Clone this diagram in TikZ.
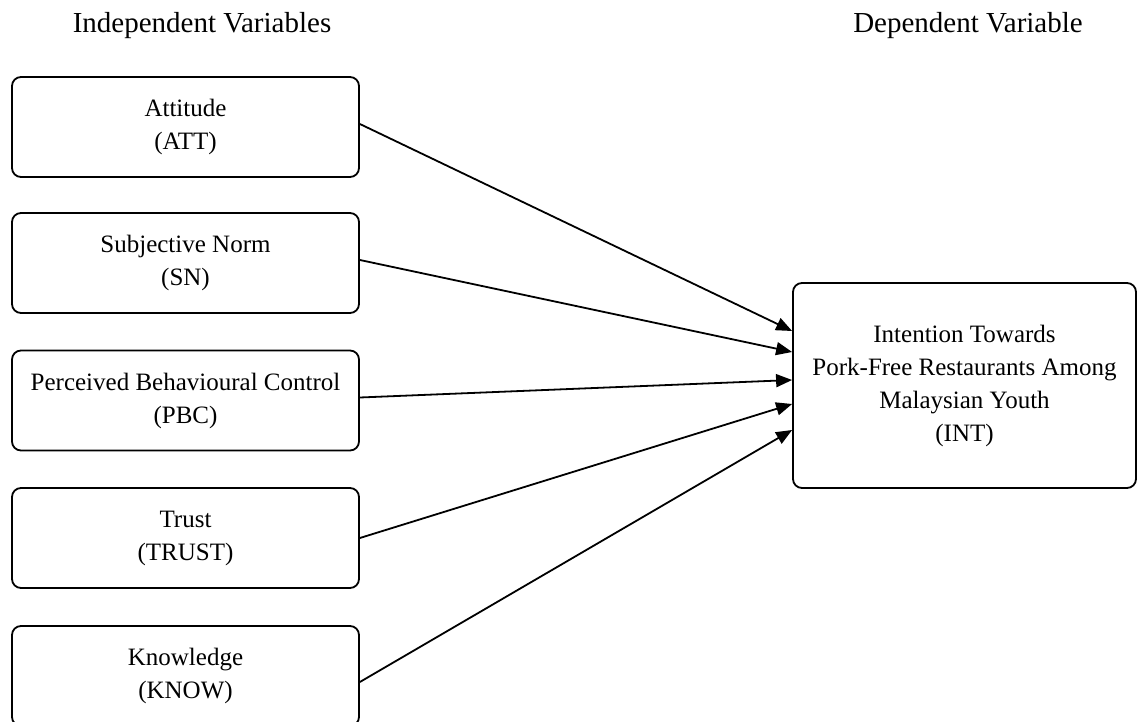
\documentclass[tikz,border=0pt]{standalone}
\usepackage{fontspec}
\setmainfont{Liberation Serif}
\usetikzlibrary{arrows.meta}
\begin{document}
\begin{tikzpicture}[x=1pt,y=-1pt,
  box/.style={draw, line width=1.8pt, rounded corners=9pt, align=center,
    font=\fontsize{25}{33}\selectfont, inner sep=0pt},
  varbox/.style={box, minimum width=347pt, minimum height=100pt},
  head/.style={font=\fontsize{29}{34}\selectfont, inner sep=0pt, anchor=base},
  link/.style={line width=1.8pt, -{Triangle[length=16pt,width=13pt]}}]
\useasboundingbox[fill=white] (0,0) rectangle (1138,722);
\node[head] (ind) at (202,33) {Independent Variables};
\node[head] (dep) at (968,33) {Dependent Variable};
\node[varbox] (att) at (185.5,127) {Attitude\\(ATT)};
\node[varbox] (sn) at (185.5,263) {Subjective Norm\\(SN)};
\node[varbox] (pbc) at (185.5,400.5) {Perceived Behavioural Control\\(PBC)};
\node[varbox] (trust) at (185.5,538) {Trust\\(TRUST)};
\node[varbox] (know) at (185.5,676) {Knowledge\\(KNOW)};
\node[box, minimum width=343pt, minimum height=205pt] (int) at (964.5,385.5)
  {Intention Towards\\Pork-Free Restaurants Among\\Malaysian Youth\\(INT)};
\draw[link] ([yshift=3pt]att.east) -- ([yshift=54.5pt]int.west);
\draw[link] ([yshift=3pt]sn.east) -- ([yshift=33.5pt]int.west);
\draw[link] ([yshift=3pt]pbc.east) -- ([yshift=5.5pt]int.west);
\draw[link] (trust.east) -- ([yshift=-18.5pt]int.west);
\draw[link] ([yshift=-6pt]know.east) -- ([yshift=-44.5pt]int.west);
\end{tikzpicture}
\end{document}
